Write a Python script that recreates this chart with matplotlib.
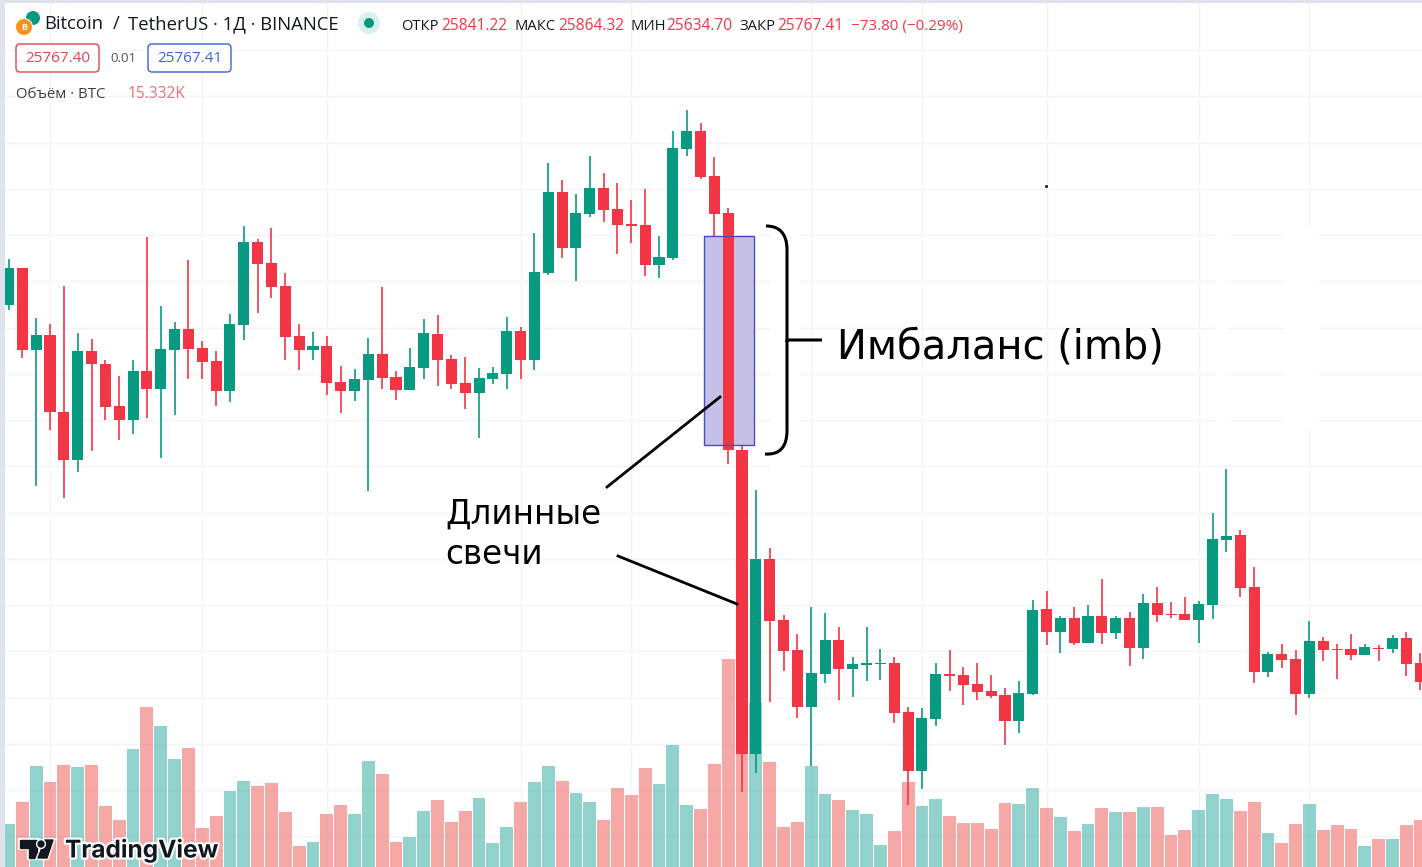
import matplotlib
matplotlib.use("Agg")
import matplotlib.pyplot as plt
import matplotlib.patheffects as pe
from matplotlib.patches import Rectangle, FancyBboxPatch, Circle, Polygon, PathPatch
from matplotlib.path import Path
import numpy as np

plt.rcParams['font.family'] = ['Open Sans', 'DejaVu Sans']

# daily candles, BTC/USDT
opens = [26950, 27320, 26500, 26650, 25880, 25400, 26490, 26360, 25940, 25800,
         26290, 26110, 26500, 26710, 26520, 26390, 26090, 26750, 27580, 27370,
         27140, 26640, 26500, 26540, 26180, 26090, 26200, 26460, 26230, 26100,
         26320, 26660, 26410, 26170, 26070, 26210, 26260, 26690, 26400, 27270,
         28080, 27520, 27860, 28120, 27910, 27760, 27750, 27350, 27420, 28510,
         28690, 28240, 27870, 25500, 22460, 24410, 23800, 23500, 22930, 23260,
         23600, 23310, 23350, 23360, 23370, 22880, 22290, 22810, 23260, 23250,
         23160, 23090, 23050, 22790, 23060, 23910, 23680, 23820, 23570, 23840,
         23670, 23820, 23520, 23970, 23860, 23860, 23800, 23950, 24600, 24650,
         24130, 23280, 23460, 23410, 23060, 23590, 23510, 23510, 23450, 23520,
         23510, 23620, 23370]
highs = [27410, 27320, 26820, 26760, 27140, 26670, 26610, 26400, 26240, 26400,
         27630, 26940, 26780, 27400, 26590, 26490, 26860, 27740, 27610, 27720,
         27270, 26760, 26680, 26640, 26340, 26310, 26620, 27130, 26290, 26520,
         26810, 26850, 26450, 26430, 26320, 26330, 26830, 26730, 27670, 28370,
         28200, 28060, 28440, 28270, 28170, 28000, 28110, 27640, 28690, 28900,
         28770, 28430, 27920, 25540, 25100, 24520, 23850, 23660, 23930, 23870,
         23730, 23430, 23730, 23510, 23430, 22930, 22920, 23370, 23500, 23330,
         23370, 23250, 23120, 23190, 24000, 24090, 23840, 23930, 23950, 24210,
         23840, 23880, 24060, 24130, 23980, 24030, 23990, 24870, 25310, 24700,
         24330, 23480, 23560, 23500, 23790, 23630, 23560, 23660, 23560, 23550,
         23650, 23680, 23470]
lows = [26900, 26420, 25140, 25700, 25020, 25280, 25490, 25800, 25600, 25660,
        25820, 25420, 25850, 26210, 26210, 25940, 25980, 26600, 26870, 27020,
        26400, 26300, 26400, 26050, 25870, 25990, 25090, 26110, 26000, 26100,
        26210, 26140, 26110, 25910, 25620, 26160, 26110, 26210, 26300, 27250,
        27420, 27190, 27830, 27780, 27460, 27570, 27240, 27220, 27400, 28440,
        28210, 27640, 25360, 22080, 22270, 22980, 23290, 22820, 22340, 23170,
        23000, 23030, 23190, 23200, 22770, 21950, 22110, 22740, 23090, 22950,
        23000, 23020, 22550, 22670, 23050, 23550, 23470, 23550, 23570, 23560,
        23610, 23340, 23410, 23780, 23820, 23800, 23570, 23810, 24480, 24030,
        23170, 23230, 23320, 22850, 23020, 23390, 23210, 23400, 23450, 23390,
        23470, 23240, 23100]
closes = [27320, 26500, 26650, 25880, 25400, 26490, 26360, 25930, 25800, 26290,
          26110, 26510, 26710, 26510, 26380, 26090, 26760, 27580, 27360, 27130,
          26630, 26500, 26540, 26170, 26090, 26210, 26460, 26220, 26100, 26330,
          26670, 26400, 26160, 26070, 26220, 26270, 26690, 26400, 27280, 28080,
          27520, 27870, 28120, 27900, 27750, 27740, 27350, 27430, 28520, 28690,
          28230, 27860, 25500, 22460, 24410, 23790, 23490, 22930, 23270, 23600,
          23310, 23360, 23370, 23370, 22870, 22290, 22820, 23260, 23240, 23150,
          23080, 23040, 22790, 23070, 23900, 23680, 23820, 23570, 23840, 23670,
          23820, 23520, 23970, 23850, 23850, 23800, 23960, 24610, 24640, 24120,
          23280, 23460, 23400, 23060, 23590, 23500, 23500, 23450, 23530, 23510,
          23620, 23360, 23180]
# volume, thousands of BTC
volumes = [8.6, 13.0, 20.2, 17.0, 20.4, 20.0, 20.4, 12.2, 9.4, 23.6,
           32.2, 28.2, 21.6, 23.8, 7.8, 10.2, 15.2, 17.2, 16.2, 16.8,
           11.0, 4.2, 5.0, 10.6, 12.4, 10.6, 21.2, 18.6, 5.0, 6.0,
           11.2, 13.4, 9.0, 11.2, 13.8, 4.8, 8.0, 13.0, 17.0, 20.2,
           17.2, 14.8, 13.0, 9.4, 15.8, 14.4, 19.8, 16.6, 24.4, 12.4,
           11.6, 20.6, 41.8, 40.2, 33.2, 21.0, 8.0, 9.0, 20.2, 14.6,
           13.4, 11.4, 10.6, 4.4, 7.2, 17.0, 12.2, 13.6, 10.2, 8.8,
           8.8, 7.6, 12.8, 12.6, 15.8, 11.8, 10.0, 7.2, 8.6, 11.8,
           11.0, 11.0, 12.0, 12.0, 6.4, 7.4, 11.4, 14.6, 13.6, 11.2,
           13.0, 6.8, 4.8, 8.6, 12.6, 7.4, 8.4, 7.6, 4.2, 5.6,
           5.6, 8.4, 9.4]
grid_candles = [3, 14, 23, 37, 45, 58, 66, 75, 86, 94]
imb_top = 27640
imb_bottom = 25550

RED = '#f23645'
GREEN = '#089981'
DARK = '#131722'
W, H = 1422, 867

fig = plt.figure(figsize=(W / 100, H / 100), dpi=100, facecolor='#e0e3eb')
rect = [5 / W, 0, (W - 5) / W, (H - 3) / H]

# 13.84 px per candle, first candle centre at x=8.5 px; 10 USD per px
xlim = ((5 - 8.5) / 13.84, (W - 8.5) / 13.84)
ylim = (30000 - 10 * H, 30000 - 10 * 3)
vlim = (0, H * 0.2)

x = np.arange(len(opens))
o, h, l, c = map(np.array, (opens, highs, lows, closes))
up = c >= o
colors = np.where(up, GREEN, RED)

ax_grid = fig.add_axes(rect, zorder=1)
ax_grid.set_xlim(xlim)
ax_grid.set_ylim(ylim)
ax_grid.set_xticks(grid_candles)
ax_grid.set_yticks(np.arange(29500, 21500, -462.5))
ax_grid.grid(True, color='#f2f4f7', linewidth=1)
ax_grid.set_axisbelow(True)
ax_grid.tick_params(length=0, labelbottom=False, labelleft=False)

ax_vol = fig.add_axes(rect, zorder=2)
ax_vol.set_xlim(xlim)
ax_vol.set_ylim(vlim)
ax_vol.patch.set_visible(False)
ax_vol.bar(x, volumes, width=0.93, linewidth=0,
           color=np.where(up, '#26a69a', '#ef5350'), alpha=0.5)

ax = fig.add_axes(rect, zorder=3)
ax.set_xlim(xlim)
ax.set_ylim(ylim)
ax.patch.set_visible(False)
ax.add_patch(Rectangle((50.25, imb_bottom), 3.62, imb_top - imb_bottom,
                       facecolor='#c6c0e6', edgecolor='none', zorder=1))
ax.vlines(x, l, h, colors=colors, linewidth=1.2, zorder=2)
ax.bar(x, np.abs(c - o), bottom=np.minimum(o, c), width=0.8, color=colors,
       linewidth=0, zorder=3)
ax.add_patch(Rectangle((50.25, imb_bottom), 3.62, imb_top - imb_bottom,
                       facecolor='none', edgecolor='#4a4ac4', linewidth=1, zorder=4))
for a in (ax_vol, ax):
    a.set_xticks([])
    a.set_yticks([])
for a in (ax_grid, ax_vol, ax):
    for s in a.spines.values():
        s.set_visible(False)

# overlay in picture pixels for header, brace, notes and logo
top = fig.add_axes([0, 0, 1, 1], zorder=4)
top.set_xlim(0, W)
top.set_ylim(H, 0)
top.axis('off')

# the picture was retouched around the note: grid wiped in these strips
mask = fig.add_axes([0, 0, 1, 1], zorder=1.5)
mask.set_xlim(0, W)
mask.set_ylim(H, 0)
mask.axis('off')
for x0, x1 in ((770, 800), (1216, 1228), (1283, 1319)):
    mask.add_patch(Rectangle((x0, 228), x1 - x0, 200, color='white', linewidth=0))
mask.add_patch(Rectangle((770, 428), 30, 45, color='white', linewidth=0))


def label(px, py, s, size=11, color=DARK, **kw):
    return top.text(px, py, s, fontsize=size, color=color, va='center', ha=kw.pop('ha', 'left'), **kw)


# symbol icons
top.add_patch(Circle((33, 18), 7, color='#089981', linewidth=0))
top.add_patch(Circle((24, 27), 9, color='white', linewidth=0))
top.add_patch(Circle((24, 27), 8, color='#f7931a', linewidth=0))
label(24, 27, 'B', size=6.5, color='white', ha='center', fontweight='bold')
label(44, 24, 'Bitcoin', size=13.35)
label(113, 24, '/', size=13.35)
label(128, 24, 'TetherUS · 1Д · BINANCE', size=13.35)
top.add_patch(Circle((369, 23), 11, color='#d9f1ec', linewidth=0))
top.add_patch(Circle((369, 23), 5, color='#089981', linewidth=0))

header = [(401, 'ОТКР', DARK, 10.6), (441, '25841.22', RED, 11.2), (515, 'МАКС', DARK, 10.6),
          (558, '25864.32', RED, 11.2), (631, 'МИН', DARK, 10.6), (666, '25634.70', RED, 11.2),
          (739, 'ЗАКР', DARK, 10.6), (777, '25767.41', RED, 11.2), (851, '−73.80 (−0.29%)', RED, 11)]
for px, s, col, size in header:
    label(px, 26.5, s, size=size, color=col)

top.add_patch(FancyBboxPatch((16, 44), 83, 28, boxstyle='round,pad=0,rounding_size=4',
                             facecolor='white', edgecolor='#e0434f', linewidth=1))
label(57.5, 58.5, '25767.40', size=11, color='#e5404e', ha='center')
label(123, 58.5, '0.01', size=9.5, color='#50535e', ha='center')
top.add_patch(FancyBboxPatch((148, 44), 83, 28, boxstyle='round,pad=0,rounding_size=4',
                             facecolor='white', edgecolor='#3b62d8', linewidth=1))
label(189.5, 58.5, '25767.41', size=11, color='#3b62d8', ha='center')
label(16, 94.5, 'Объём · BTC', size=10.8, color='#3b3e48')
label(128, 94.5, '15.332K', size=11.2, color='#ea7078')

# brace and pointers
Mv, L4, C3 = Path.MOVETO, Path.LINETO, Path.CURVE4
brace_pts = [(766, 226), (778, 226), (787, 232), (787, 250), (787, 335), (787, 340), (822, 340),
             (787, 340), (787, 345), (787, 430), (787, 447), (780, 455), (765, 454)]
brace_codes = [Mv, C3, C3, C3, L4, L4, L4, Mv, L4, L4, C3, C3, C3]
top.add_patch(PathPatch(Path(brace_pts, brace_codes), facecolor='none', edgecolor='black', linewidth=2.2))
top.plot([607, 720], [487, 397], color='black', linewidth=2)
top.plot([618, 737], [556, 604], color='black', linewidth=2)
top.plot([1046], [186], 's', color='black', markersize=1)

label(837, 348, 'Имбаланс (imb)', size=28.8, color='black', family=['DejaVu Sans'])
label(445, 514.5, 'Длинные', size=23.5, color='black', family=['DejaVu Sans'])
label(445, 554, 'свечи', size=23.5, color='black', family=['DejaVu Sans'])

# watermark
halo = [pe.withStroke(linewidth=3, foreground='white')]
for patch in (Polygon([(20, 840), (37, 840), (37, 858), (29, 858), (29, 848), (20, 848)], color=DARK),
              Polygon([(45, 840), (53, 840), (47, 858), (38, 858)], color=DARK),
              Circle((41, 844), 3, color=DARK)):
    patch.set_path_effects(halo)
    top.add_patch(patch)
label(65, 850, 'TradingView', size=17.6, fontweight='bold', family=['Inter'], path_effects=halo)

fig.savefig('out.png', dpi=100, facecolor=fig.get_facecolor())
